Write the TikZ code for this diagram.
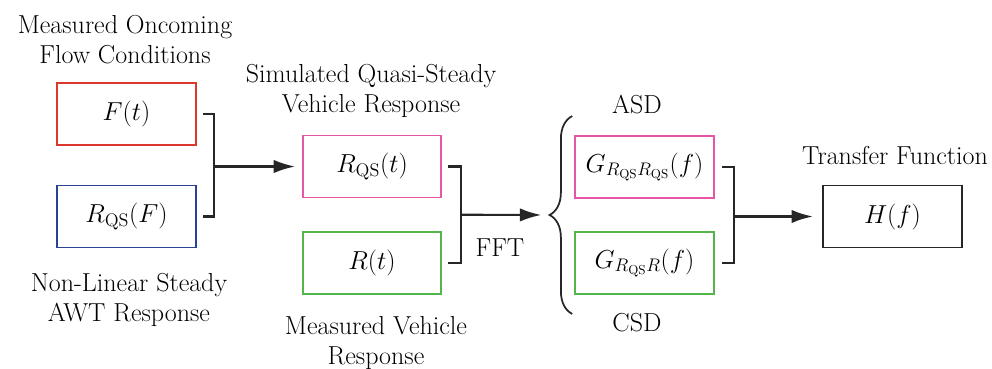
\documentclass[tikz,border=0pt]{standalone}
\usepackage{fix-cm}
\usepackage{fontspec}
\usepackage{tikz}
\usetikzlibrary{arrows.meta, positioning, calc, decorations.pathreplacing}

\definecolor{redbox}{RGB}{221,56,46}
\definecolor{bluebox}{RGB}{42,66,150}
\definecolor{pinkbox}{RGB}{231,86,166}
\definecolor{greenbox}{RGB}{86,180,76}

\newcommand{\QS}{\mathrm{QS}}

\begin{document}
\begin{tikzpicture}[
  x=0.75pt, y=-0.75pt,
  box/.style={draw, line width=1.4pt, minimum width=104pt, minimum height=46.5pt, inner sep=0pt, font=\fontsize{19.5}{22.5}\selectfont},
  lbl/.style={font=\fontsize{19.5}{22.5}\selectfont, align=center, inner sep=0pt},
  brk/.style={line width=1.6pt, black!85},
  arr/.style={-{Latex[length=16pt, width=10pt]}, line width=1.6pt, black!85},
]
\useasboundingbox (0,0) rectangle (992,368);

% input boxes
\node[box, draw=redbox]  (ft)   at (126.5,114)   {$F(t)$};
\node[box, draw=bluebox] (rqsf) at (126.5,216.5) {$R_{\QS}(F)$};
% time signals
\node[box, draw=pinkbox]  (rqst) at (372,166.5) {$R_{\QS}(t)$};
\node[box, draw=greenbox] (rtt)  at (372,263)   {$R(t)$};
% spectral densities
\node[box, draw=pinkbox]  (gasd) at (644.5,167) {$G_{R_{\QS}R_{\QS}}(f)$};
\node[box, draw=greenbox] (gcsd) at (644.5,263) {$G_{R_{\QS}R}(f)$};
% output
\node[box, draw=black!85] (hf) at (892.5,216.5) {$H(f)$};

\node[lbl] (lflow) at (125,40)  {Measured Oncoming\\Flow Conditions};
\node[lbl] (lawt)  at (129,300) {Non-Linear Steady\\AWT Response};
\node[lbl] (lsim)  at (371,91)  {Simulated Quasi-Steady\\Vehicle Response};
\node[lbl] (lmeas) at (376,343) {Measured Vehicle\\Response};
\node[lbl] (lasd)  at (637,105) {ASD};
\node[lbl] (lcsd)  at (637,323) {CSD};
\node[lbl] (ltf)   at (895,155) {Transfer Function};

% bracket 1
\draw[brk] ($(ft.east)+(6,0)$) -- ++(11,0) |- ($(rqsf.east)+(6,0)$);
\coordinate (j1) at ($(ft.east)!0.5!(rqsf.east)+(17,0)$);
\draw[arr, shorten >=5pt] (j1 |- rqst.west) -- (rqst.west);

% bracket 2 + FFT
\draw[brk] ($(rqst.east)+(6,0)$) -- ++(13,0) |- ($(rtt.east)+(6,0)$);
\coordinate (j2) at ($(rqst.east)!0.5!(rtt.east)+(19,0)$);
\node[lbl] (lfft) at (500,248) {FFT};

% brace
\draw[brk, line width=1.3pt, decorate, decoration={brace, amplitude=17pt}]
  ($(gcsd.south west)+(-2,19)$) -- ($(gasd.north west)+(-2,-19)$);
\coordinate (bt) at ($(gasd.north west)!0.5!(gcsd.south west)+(-25,0)$);
\draw[arr, shorten >=6pt] (j2) -- (bt);

% bracket 3
\draw[brk] ($(gasd.east)+(7,0)$) -- ++(12,0) |- ($(gcsd.east)+(7,0)$);
\coordinate (j3) at ($(gasd.east)!0.5!(gcsd.east)+(19,0)$);
\draw[arr, shorten >=7pt] (j3 |- hf.west) -- (hf.west);
\end{tikzpicture}
\end{document}
